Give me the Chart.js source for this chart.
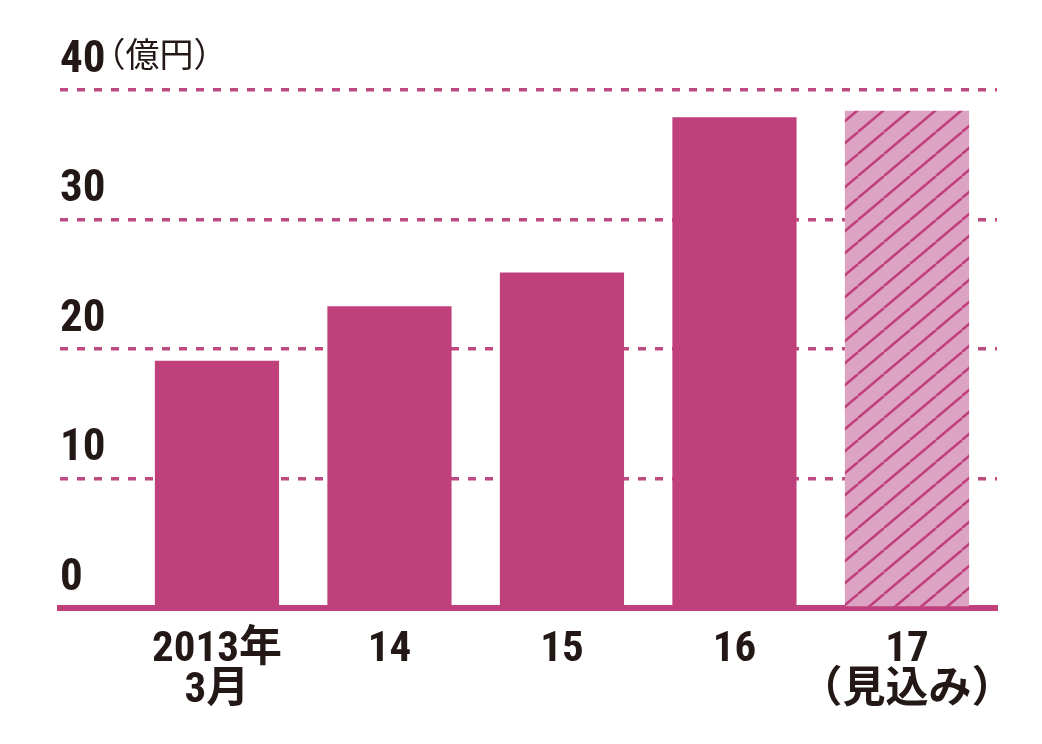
<!DOCTYPE html>
<html>
<head>
<meta charset="utf-8">
<script src="https://cdn.jsdelivr.net/npm/chart.js@4"></script>
<style>
  html, body { margin: 0; background: #fff; }
</style>
</head>
<body>
<canvas id="c" width="1042" height="744"></canvas>
<script>
const categories = [["2013年", "3月"], ["14"], ["15"], ["16"], ["17", "（見込み）"]];
const sales = [19.1, 23.3, 25.9, 37.9, 38.4];
const forecast = [false, false, false, false, true];
const yTicks = [0, 10, 20, 30, 40];
const unitLabel = "（億円）";

const pink = "#c0407c";
const lightPink = "#dca3c3";
const ink = "#231815";
const numFont = "'Roboto Condensed', 'Noto Sans CJK JP', sans-serif";

// hatch for the forecast bar
function hatch() {
  const w = 26, h = 22;
  const c = document.createElement("canvas");
  c.width = w; c.height = h;
  const g = c.getContext("2d");
  g.fillStyle = lightPink;
  g.fillRect(0, 0, w, h);
  g.strokeStyle = pink;
  g.lineWidth = 2.5;
  for (const dx of [-w, 0, w]) {
    g.beginPath();
    g.moveTo(dx, h);
    g.lineTo(dx + w, 0);
    g.stroke();
  }
  return g.createPattern(c, "repeat");
}
const pattern = hatch();

const unitPlugin = {
  id: "unit",
  afterDraw(chart) {
    const { ctx, scales: { y } } = chart;
    const top = yTicks[yTicks.length - 1];
    const py = y.getPixelForValue(top);
    ctx.save();
    ctx.font = "bold 45px " + numFont;
    const w = ctx.measureText(String(top)).width;
    ctx.font = "34px 'Noto Sans CJK JP', sans-serif";
    ctx.fillStyle = ink;
    ctx.textBaseline = "middle";
    ctx.fillText(unitLabel, y.right + w - 14, py - 36);
    ctx.restore();
  }
};

new Chart(document.getElementById("c"), {
  type: "bar",
  data: {
    datasets: [{
      data: sales.map((v, i) => ({ x: i, y: v })),
      backgroundColor: forecast.map(f => f ? pattern : pink),
      borderWidth: 0,
      barPercentage: 0.72,
      categoryPercentage: 1
    }]
  },
  options: {
    responsive: false,
    animation: false,
    layout: { padding: { left: 60, right: 45, top: 90, bottom: 0 } },
    plugins: { legend: { display: false }, tooltip: { enabled: false } },
    scales: {
      x: {
        type: "linear",
        position: "bottom",
        offset: false,
        min: -0.91,
        max: 4.522,
        z: 1,
        grid: { display: false, drawTicks: false, offset: false },
        border: { display: true, color: pink, width: 6 },
        afterBuildTicks: s => { s.ticks = categories.map((c, i) => ({ value: i })); },
        afterFit: s => { s.height = 136; },
        ticks: {
          autoSkip: false,
          maxRotation: 0,
          padding: 22,
          color: ink,
          font: { family: numFont, size: 43, weight: "bold", lineHeight: "41px" },
          callback: (v, i) => categories[i]
        }
      },
      y: {
        min: 0,
        max: 40,
        afterBuildTicks: s => { s.ticks = yTicks.map(v => ({ value: v })); },
        afterFit: s => { s.width = 0; },
        grid: {
          drawTicks: false,
          lineWidth: 3.5,
          color: c => c.tick && c.tick.value === 0 ? "rgba(0,0,0,0)" : "#bd4a80"
        },
        border: { display: false, dash: [8, 9] },
        ticks: {
          mirror: true,
          align: "end",
          padding: 0,
          color: ink,
          font: { family: numFont, size: 45, weight: "bold", lineHeight: "14px" },
          callback: v => [String(v), ""]
        }
      }
    }
  },
  plugins: [unitPlugin]
});
</script>
</body>
</html>
